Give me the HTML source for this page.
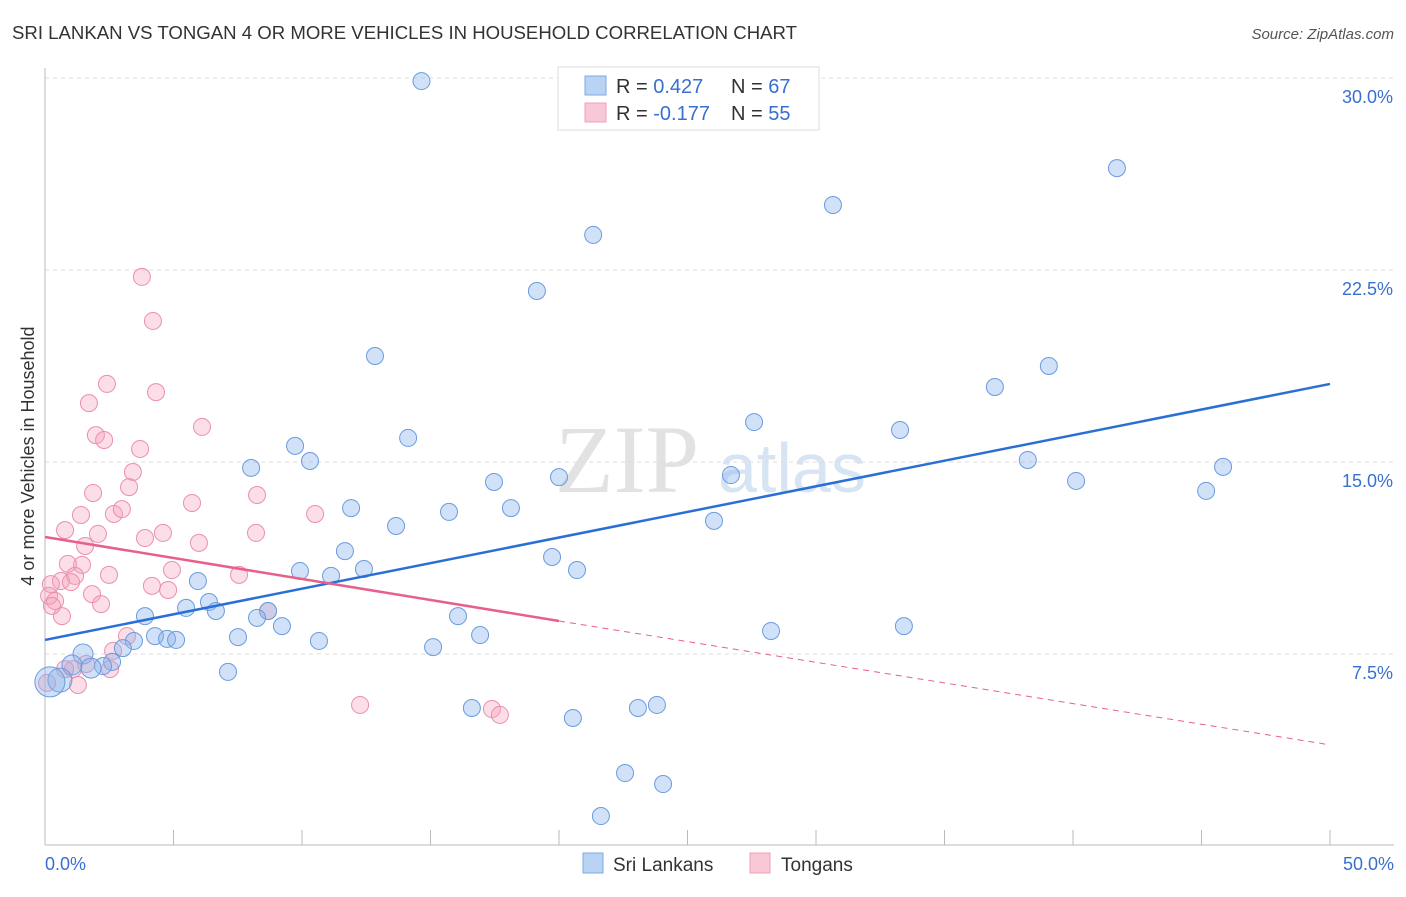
<!DOCTYPE html>
<html><head><meta charset="utf-8"><style>
body{margin:0;background:#fff;font-family:"Liberation Sans",sans-serif}
</style></head><body>
<svg width="1406" height="892" style="font-family:'Liberation Sans',sans-serif">
<text x="12" y="39" font-size="18" fill="#333" textLength="785" lengthAdjust="spacingAndGlyphs">SRI LANKAN VS TONGAN 4 OR MORE VEHICLES IN HOUSEHOLD CORRELATION CHART</text>
<text x="1394" y="39" font-size="15" fill="#555" font-style="italic" text-anchor="end">Source: ZipAtlas.com</text>
<text x="555" y="492" font-size="96" fill="#e2e2e2" style="font-family:'Liberation Serif',serif">ZIP</text>
<text x="718" y="492" font-size="70" fill="#d6e4f4">atlas</text>
<g id="grid"></g>
<line x1="45" y1="68" x2="45" y2="845" stroke="#bbb"/>
<line x1="45" y1="845" x2="1394" y2="845" stroke="#bbb"/>
<g id="xticks"></g>
<text x="45" y="870" font-size="18" fill="#3a6fd0">0.0%</text>
<text x="1394" y="870" font-size="18" fill="#3a6fd0" text-anchor="end">50.0%</text>
<text transform="translate(34,456) rotate(-90)" font-size="18" fill="#333" text-anchor="middle">4 or more Vehicles in Household</text>
<g id="pts"></g>
<g id="lines"></g>
<g>
<rect x="558" y="67" width="261" height="63" fill="#fff" stroke="#ddd"/>
<rect x="585" y="76" width="21" height="19" fill="#b8d3f4" stroke="#7ea8e0"/>
<rect x="585" y="103" width="21" height="19" fill="#f8c8d6" stroke="#eea0b8"/>
<text x="616" y="93" font-size="20" fill="#333">R = <tspan fill="#3a6fd0"> 0.427</tspan><tspan x="731">N = </tspan><tspan fill="#3a6fd0">67</tspan></text>
<text x="616" y="120" font-size="20" fill="#333">R = <tspan fill="#3a6fd0">-0.177</tspan><tspan x="731">N = </tspan><tspan fill="#3a6fd0">55</tspan></text>
</g>
<g>
<rect x="583" y="853" width="20" height="20" fill="#b8d3f4" stroke="#7ea8e0"/>
<text x="613" y="871" font-size="19" fill="#333">Sri Lankans</text>
<rect x="750" y="853" width="20" height="20" fill="#f8c8d6" stroke="#eea0b8"/>
<text x="781" y="871" font-size="19" fill="#333">Tongans</text>
</g>
</svg>
<script>
const yTicks=[7.5,15,22.5,30];
const blueX=[14.65,21.33,30.66,41.71,19.14,12.84,39.06,36.96,27.59,33.27,14.13,9.73,38.24,10.31,8.02,45.84,20,26.69,17.47,40.12,45.18,11.91,15.72,18.13,13.66,26.03,11.67,19.73,20.7,9.92,11.13,12.41,5.95,6.38,5.49,6.65,3.89,16.07,8.68,8.25,9.22,33.42,28.25,4.28,4.75,5.1,7.51,10.66,3.46,16.93,3.03,15.1,1.48,2.61,2.26,1.05,1.79,7.12,0.58,0.19,16.61,20.54,23.07,23.81,22.57,24.05,21.63];
const blueY=[29.88,23.87,25.04,26.48,21.68,19.14,18.75,17.93,16.56,16.25,15.94,15.63,15.08,15.04,14.77,14.81,14.41,14.49,14.22,14.26,13.87,13.2,13.05,13.2,12.5,12.7,11.52,11.29,10.78,10.74,10.55,10.82,10.35,9.53,9.3,9.18,8.98,8.98,9.18,8.91,8.59,8.59,8.4,8.2,8.09,8.05,8.16,8.01,8.01,8.24,7.73,7.77,7.5,7.19,7.03,7.07,6.95,6.8,6.48,6.41,5.39,5,5.39,5.51,2.85,2.42,1.17];
const blueR=[8.5,8.5,8.5,8.5,8.5,8.5,8.5,8.5,8.5,8.5,8.5,8.5,8.5,8.5,8.5,8.5,8.5,8.5,8.5,8.5,8.5,8.5,8.5,8.5,8.5,8.5,8.5,8.5,8.5,8.5,8.5,8.5,8.5,8.5,8.5,8.5,8.5,8.5,8.5,8.5,8.5,8.5,8.5,8.5,8.5,8.5,8.5,8.5,8.5,8.5,8.5,8.5,10,8.5,8.5,10,10,8.5,12,15,8.5,8.5,8.5,8.5,8.5,8.5,8.5];
const pinkX=[3.77,4.2,2.41,4.32,1.71,6.11,1.98,2.3,3.7,3.42,1.87,5.72,8.25,3.27,2.68,1.4,2.99,10.51,0.78,1.56,2.06,3.89,4.59,5.99,8.21,1.44,0.89,1.17,2.49,4.94,7.55,0.62,0.23,1.01,4.16,4.79,1.83,2.18,0.16,0.39,0.27,0.66,3.19,2.65,8.68,1.6,1.09,2.53,12.26,17.39,17.7,1.28,0.08,0.78];
const pinkY=[22.23,20.51,18.05,17.73,17.3,16.37,16.05,15.86,15.51,14.61,13.79,13.4,13.71,14.02,12.97,12.93,13.16,12.97,12.34,11.72,12.19,12.03,12.23,11.84,12.23,10.98,11.02,10.55,10.59,10.78,10.59,10.35,10.23,10.31,10.16,10,9.84,9.45,9.77,9.57,9.38,8.98,8.2,7.62,9.18,7.11,6.91,6.91,5.51,5.35,5.12,6.29,6.37,6.91];
const blueLine=[0,8.05,50,18.05];
const pinkLine=[0,12.07,20,8.79,50,3.95];
const NS='http://www.w3.org/2000/svg';
const X=v=>45+v/50*1285, Y=v=>846-v/7.5*192;
function mk(t,a,p){const e=document.createElementNS(NS,t);for(const k in a)e.setAttribute(k,a[k]);document.getElementById(p).appendChild(e);return e;}
yTicks.forEach(t=>{
 const l=mk('line',{x1:45,x2:1394,y1:Y(t),y2:Y(t),stroke:'#ddd','stroke-dasharray':'4,4'},'grid');
 
 
 const tx=mk('text',{x:1393,y:Y(t)+25,'font-size':18,fill:'#3a6fd0','text-anchor':'end'},'grid');
 tx.textContent=t.toFixed(1)+'%';
 
 
});
for(let i=0;i<=10;i++){
 const l=mk('line',{x1:X(i*5),x2:X(i*5),y1:830,y2:845,stroke:'#bbb'},'xticks');
 
 
}
pinkX.forEach((v,i)=>{
 const c=mk('circle',{cx:X(v),cy:Y(pinkY[i]),r:8.5,fill:'rgba(244,160,185,0.35)',stroke:'#ec8fac','stroke-width':1},'pts');
 
 
});
blueX.forEach((v,i)=>{
 const c=mk('circle',{cx:X(v),cy:Y(blueY[i]),r:blueR[i],fill:'rgba(140,180,235,0.4)',stroke:'#6a9be0','stroke-width':1},'pts');
 
 
});
const bl=mk('line',{x1:X(blueLine[0]),y1:Y(blueLine[1]),x2:X(blueLine[2]),y2:Y(blueLine[3]),stroke:'#2a6fd6','stroke-width':2.5},'lines');


const pl=mk('line',{x1:X(pinkLine[0]),y1:Y(pinkLine[1]),x2:X(pinkLine[2]),y2:Y(pinkLine[3]),stroke:'#e8608a','stroke-width':2.5},'lines');


const pd=mk('line',{x1:X(pinkLine[2]),y1:Y(pinkLine[3]),x2:X(pinkLine[4]),y2:Y(pinkLine[5]),stroke:'#e8608a','stroke-width':1,'stroke-dasharray':'6,5'},'lines');


</script>
</body></html>
